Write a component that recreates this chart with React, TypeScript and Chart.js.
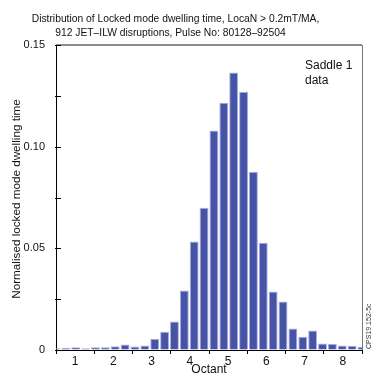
import React, { useEffect, useRef } from "react";
import { Chart, registerables } from "chart.js";

Chart.register(...registerables);

const titleLines = [
  "Distribution of Locked mode dwelling time, LocaN > 0.2mT/MA,",
  "912 JET\u2013ILW disruptions, Pulse No: 80128\u201392504",
];
const octantLabels = ["1", "2", "3", "4", "5", "6", "7", "8"];
// 4 bins per octant, 32 bins total
const binLabels = Array.from({ length: 32 }, (_, i) => String(i));
const dwellValues = [
  0.0008, 0.001, 0.0013, 0.0008,
  0.0013, 0.0013, 0.0019, 0.0027,
  0.0017, 0.0022, 0.0055, 0.009,
  0.014, 0.0293, 0.0534, 0.07,
  0.108, 0.1216, 0.1365, 0.127,
  0.0877, 0.0527, 0.0288, 0.0239,
  0.0106, 0.0065, 0.0096, 0.0032,
  0.003, 0.0022, 0.0021, 0.0016,
];
const yTitle = "Normalised locked mode dwelling time";
const xTitle = "Octant";
const noteLines = ["Saddle 1", "data"];
const figId = "CPS19.152-5c";

const FONT = "'Liberation Sans', Arial, sans-serif";

const decorPlugin = {
  id: "decor",
  afterDraw(chart: any) {
    const ctx = chart.ctx;
    const a = chart.chartArea;
    const y = chart.scales.y;
    ctx.save();
    // frame top & right
    ctx.strokeStyle = "#666";
    ctx.lineWidth = 1.5;
    ctx.beginPath();
    ctx.moveTo(a.left, a.top);
    ctx.lineTo(a.right, a.top);
    ctx.stroke();
    ctx.strokeStyle = "#777";
    ctx.lineWidth = 1;
    ctx.beginPath();
    ctx.moveTo(a.right + 0.5, a.top);
    ctx.lineTo(a.right + 0.5, a.bottom);
    ctx.stroke();
    // inward y ticks
    ctx.strokeStyle = "#000";
    ctx.lineWidth = 1;
    y.ticks.forEach((t: any) => {
      const py = Math.round(y.getPixelForValue(t.value)) + 0.5;
      ctx.beginPath();
      ctx.moveTo(a.left - 1, py);
      ctx.lineTo(a.left + 5, py);
      ctx.stroke();
    });
    // titles
    ctx.fillStyle = "#111";
    ctx.textAlign = "center";
    ctx.textBaseline = "middle";
    ctx.font = `10.3px ${FONT}`;
    ctx.fillText(titleLines[0], 175.5, 19);
    ctx.fillText(titleLines[1], 170.5, 33);
    ctx.font = `12px ${FONT}`;
    ctx.fillText(xTitle, (a.left + a.right) / 2, 370);
    ctx.save();
    ctx.translate(17, 199);
    ctx.rotate(-Math.PI / 2);
    ctx.font = `11.7px ${FONT}`;
    ctx.fillText(yTitle, 0, 0);
    ctx.restore();
    // note
    ctx.textAlign = "left";
    ctx.font = `12px ${FONT}`;
    ctx.fillText(noteLines[0], 305, 66);
    ctx.fillText(noteLines[1], 305, 81);
    // fig id
    ctx.save();
    ctx.translate(369, 349);
    ctx.rotate(-Math.PI / 2);
    ctx.font = `7px ${FONT}`;
    ctx.fillStyle = "#333";
    ctx.fillText(figId, 0, 0);
    ctx.restore();
    ctx.restore();
  },
};

export default function App() {
  const ref = useRef<HTMLCanvasElement>(null);
  useEffect(() => {
    if (!ref.current) return;
    const chart = new Chart(ref.current, {
      type: "bar",
      data: {
        labels: binLabels,
        datasets: [
          {
            data: dwellValues,
            backgroundColor: "#4753a6",
            borderColor: "#a7aedc",
            borderWidth: 1,
            barPercentage: 0.9,
            categoryPercentage: 1,
          },
        ],
      },
      options: {
        responsive: false,
        animation: false,
        layout: { padding: { left: 0, top: 45, right: 15, bottom: 0 } },
        plugins: {
          legend: { display: false },
          title: { display: false },
          tooltip: { enabled: false },
        },
        scales: {
          x: {
            display: false,
            offset: false,
          },
          xo: {
            type: "category",
            position: "bottom",
            labels: octantLabels,
            offset: true,
            grid: {
              offset: true,
              drawOnChartArea: false,
              drawTicks: true,
              tickLength: 4,
              color: "#000",
            },
            border: { color: "#000", width: 1 },
            ticks: {
              padding: 0,
              color: "#111",
              font: { family: FONT, size: 12 },
              maxRotation: 0,
            },
            afterFit(scale: any) {
              scale.height = 26;
            },
          },
          y: {
            min: 0,
            max: 0.15,
            grid: { drawOnChartArea: false, drawTicks: false },
            border: { color: "#000", width: 1 },
            ticks: {
              stepSize: 0.025,
              padding: 11,
              color: "#111",
              font: { family: FONT, size: 11 },
              callback: (v: any) => {
                const n = Math.round(Number(v) * 1000);
                if (n % 50 !== 0) return "";
                if (n === 0) return "0";
                return (n / 1000).toFixed(2);
              },
            },
            afterFit(scale: any) {
              scale.width = 56;
            },
          },
        },
      },
      plugins: [decorPlugin],
    } as any);
    return () => chart.destroy();
  }, []);
  return (
    <div style={{ position: "absolute", left: 0, top: 0, width: 377, height: 376, background: "#fff" }}>
      <canvas ref={ref} width={377} height={376} style={{ display: "block", width: 377, height: 376 }} />
    </div>
  );
}
